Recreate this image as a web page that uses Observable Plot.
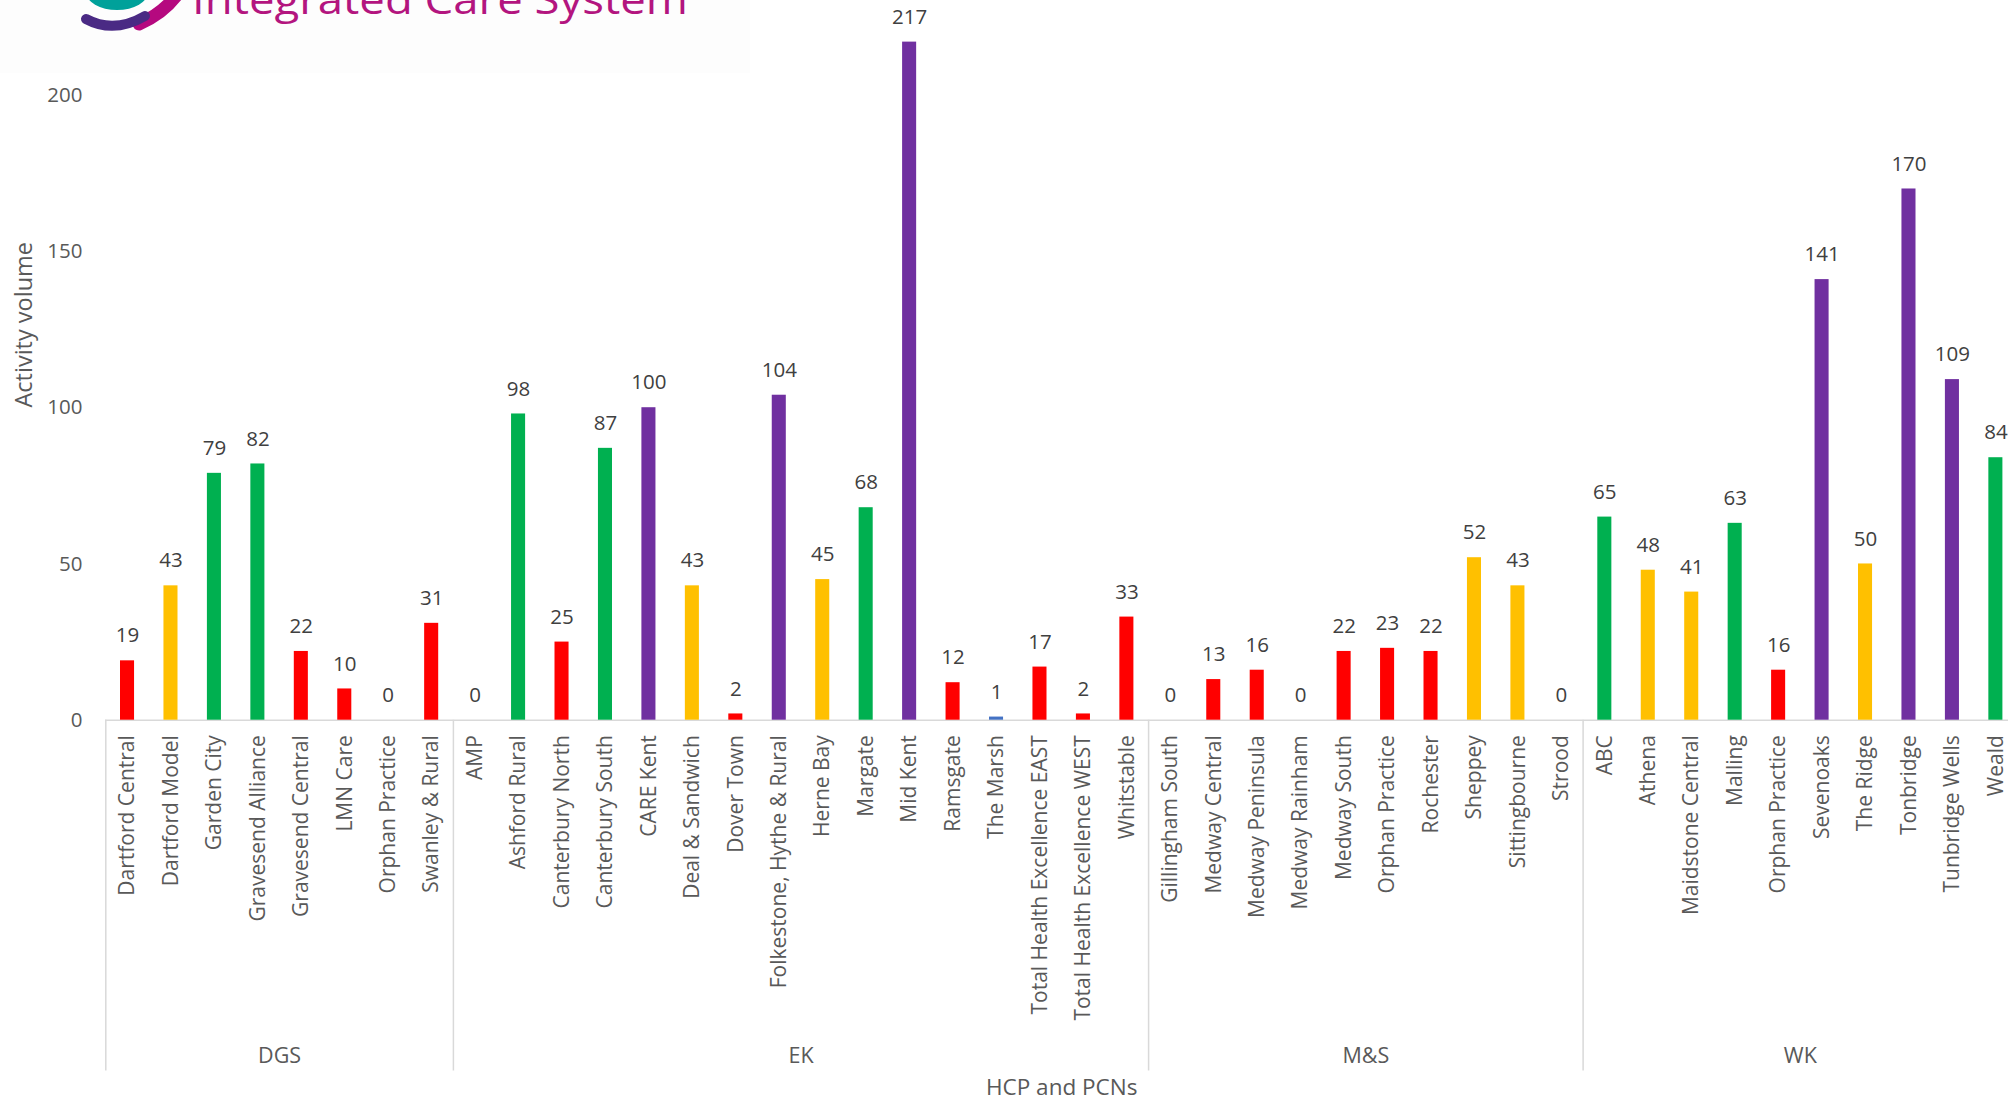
<!DOCTYPE html>
<html>
<head>
<meta charset="utf-8">
<script src="https://cdn.jsdelivr.net/npm/d3@7"></script>
<script src="https://cdn.jsdelivr.net/npm/@observablehq/plot@0.6"></script>
<style>
  html, body { margin: 0; padding: 0; overflow: hidden; background: #ffffff; width: 2008px; height: 1104px; }
  #wrap { position: relative; width: 2008px; height: 1104px; overflow: hidden; }
  #chart { position: absolute; left: 0; top: 0; }
  #logo { position: absolute; left: 0; top: 0; }
</style>
</head>
<body>
<div id="wrap">
  <div id="chart"></div>
  <svg id="logo" width="760" height="80" xmlns="http://www.w3.org/2000/svg">
    <rect x="0" y="0" width="750" height="73" fill="#fdfdfd"></rect>
    <ellipse cx="117" cy="-8" rx="31" ry="18" fill="#00a19a"></ellipse>
    <path d="M 139 24 Q 162 14 176 -4" stroke="#b5097f" stroke-width="13" stroke-linecap="round" fill="none"></path>
    <path d="M 86 19 Q 114 34 145 16" stroke="#4a2a84" stroke-width="10" stroke-linecap="round" fill="none"></path>
    <text x="192" y="14" font-family="Open Sans" font-size="40" fill="#b3157f" textLength="496" lengthAdjust="spacingAndGlyphs">Integrated Care System</text>
  </svg>
</div>
<script>
// ---- Data ----
const hcps = ["DGS", "EK", "M&S", "WK"];
const hcpSizes = [8, 16, 10, 10];

const pcns = [
  "Dartford Central", "Dartford Model", "Garden City", "Gravesend Alliance", "Gravesend Central", "LMN Care", "Orphan Practice", "Swanley & Rural",
  "AMP", "Ashford Rural", "Canterbury North", "Canterbury South", "CARE Kent", "Deal & Sandwich", "Dover Town", "Folkestone, Hythe & Rural",
  "Herne Bay", "Margate", "Mid Kent", "Ramsgate", "The Marsh", "Total Health Excellence EAST", "Total Health Excellence WEST", "Whitstable",
  "Gillingham South", "Medway Central", "Medway Peninsula", "Medway Rainham", "Medway South", "Orphan Practice", "Rochester", "Sheppey", "Sittingbourne", "Strood",
  "ABC", "Athena", "Maidstone Central", "Malling", "Orphan Practice", "Sevenoaks", "The Ridge", "Tonbridge", "Tunbridge Wells", "Weald"
];

const activity = [
  19, 43, 79, 82, 22, 10, 0, 31,
  0, 98, 25, 87, 100, 43, 2, 104,
  45, 68, 217, 12, 1, 17, 2, 33,
  0, 13, 16, 0, 22, 23, 22, 52, 43, 0,
  65, 48, 41, 63, 16, 141, 50, 170, 109, 84
];

const rating = [
  "Red", "Amber", "Green", "Green", "Red", "Red", "None", "Red",
  "None", "Green", "Red", "Green", "Purple", "Amber", "Red", "Purple",
  "Amber", "Green", "Purple", "Red", "Blue", "Red", "Red", "Red",
  "None", "Red", "Red", "None", "Red", "Red", "Red", "Amber", "Amber", "None",
  "Green", "Amber", "Amber", "Green", "Red", "Purple", "Amber", "Purple", "Purple", "Green"
];

const ratingNames = ["Red", "Amber", "Green", "Purple", "Blue", "None"];
const ratingColors = ["#ff0000", "#ffc000", "#00b050", "#7030a0", "#4472c4", "#d9d9d9"];

const yTicks = [0, 50, 100, 150, 200];

// ---- Build table ----
const hcpOf = [];
hcps.forEach((h, gi) => { for (let k = 0; k < hcpSizes[gi]; k++) hcpOf.push(h); });
const rows = pcns.map((p, i) => ({ i, pcn: p, hcp: hcpOf[i], value: activity[i], rating: rating[i] }));

const groups = [];
let start = 0;
hcps.forEach((h, gi) => { groups.push({ hcp: h, start, end: start + hcpSizes[gi] }); start += hcpSizes[gi]; });
const boundaries = [0, ...groups.map(g => g.end)];

const n = pcns.length;
const dividerDepth = -112.3; // extends group dividers below the baseline

const chart = Plot.plot({
  width: 2008,
  height: 1104,
  marginLeft: 105,
  marginRight: 0,
  marginTop: 0,
  marginBottom: 384,
  style: { fontFamily: "Open Sans", color: "#595959", background: "transparent", overflow: "visible" },
  x: { type: "linear", domain: [0, n], range: [105.3, 2017.1], axis: null },
  y: { domain: [0, 250], range: [719.7, -61.5], axis: null },
  color: { domain: ratingNames, range: ratingColors },
  marks: [
    Plot.axisY({ ticks: yTicks, tickSize: 0, tickPadding: 23, fontSize: 20.5, label: null, fill: "#595959" }),
    Plot.ruleY([0], { stroke: "#d9d9d9", strokeWidth: 1.5 }),
    Plot.ruleX(boundaries, { x: d => d, y1: 0, y2: dividerDepth, stroke: "#d9d9d9", strokeWidth: 1.5 }),
    Plot.rectY(rows, { x1: d => d.i, x2: d => d.i + 1, y: "value", fill: "rating", insetLeft: 14.7, insetRight: 14.7 }),
    Plot.text(rows, { x: d => d.i + 0.5, y: "value", text: d => String(d.value), dy: -25, fontSize: 20.5, fill: "#404040" }),
    Plot.text(rows, { x: d => d.i + 0.5, y: 0, text: "pcn", rotate: -90, textAnchor: "end", lineAnchor: "middle", dy: 15, fontSize: 21, fill: "#595959" }),
    Plot.text(groups, { x: d => (d.start + d.end) / 2, y: 0, text: "hcp", dy: 336, fontSize: 21.5, fill: "#595959" }),
    Plot.text(["HCP and PCNs"], { x: n / 2, y: 0, text: d => d, dy: 368, fontSize: 22.5, fill: "#595959" }),
    Plot.text(["Activity volume"], { frameAnchor: "left", text: d => d, rotate: -90, dx: -81, dy: 47, fontSize: 23.5, fill: "#595959" })
  ]
});

document.getElementById("chart").appendChild(chart);
</script>
</body>
</html>
